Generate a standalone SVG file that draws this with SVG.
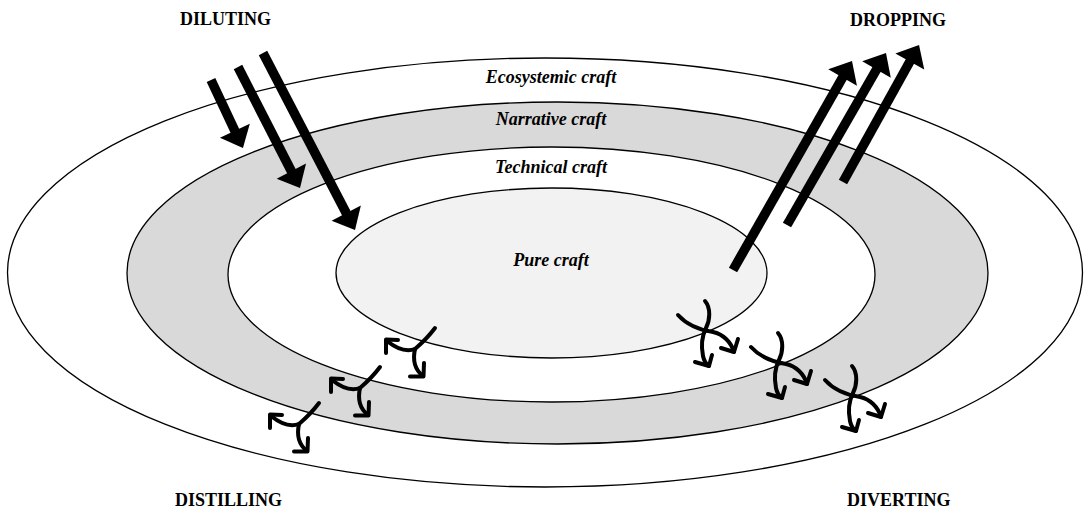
<svg xmlns="http://www.w3.org/2000/svg" xmlns:xlink="http://www.w3.org/1999/xlink" width="1088" height="512" viewBox="0 0 1088 512">
<style>
.ring{stroke:#000;stroke-width:1.3}
.lbl{font-family:"Liberation Serif","Times New Roman",serif;font-weight:bold;font-style:italic;font-size:18px;text-anchor:middle;fill:#000}
.cap{font-family:"Liberation Serif","Times New Roman",serif;font-weight:bold;font-size:18px;fill:#000}
.thick{stroke:#000;stroke-width:9.5;fill:none}
.sq{stroke:#000;stroke-width:4;fill:none;stroke-linecap:round;stroke-linejoin:round}
</style>
<defs>
<marker id="head" markerUnits="userSpaceOnUse" viewBox="-2 -18 22 36" refX="0" refY="0" markerWidth="22" markerHeight="36" orient="auto">
<path d="M-1,-16.5 L18,0 L-1,16.5 z" fill="#000"/>
</marker>
<g id="distill">
<path class="sq" d="M20,-21 C14,-13 7,-6 0,0"/>
<path class="sq" d="M0,0 C-8,3 -18,0 -28,-8"/>
<polyline class="sq" points="-17,-9 -29,-9.5 -29,4"/>
<path class="sq" d="M0,0 C-2,9 -1,20 8,27"/>
<polyline class="sq" points="-5,27.5 8.5,27.5 9,14"/>
</g>
<g id="divert">
<path class="sq" d="M0,-29 C6,-22 5,-10 1,-2 C-3,6 -4,16 -2,26 C-1,31 1,34 4,36"/>
<polyline class="sq" points="-10,32 4,36 7,25"/>
<path class="sq" d="M-27,-15 C-18,-5 -5,0 8,2 C18,4 26,12 29,22"/>
<polyline class="sq" points="16,18 29,22 33,9"/>
</g>
</defs>
<rect width="1088" height="512" fill="#fff"/>
<g id="ecosystemic">
<ellipse class="ring" cx="545" cy="272.5" rx="537.5" ry="214.5" fill="#fff"/>
</g>
<g id="narrative">
<ellipse class="ring" cx="557.5" cy="273" rx="430.5" ry="171" fill="#d9d9d9"/>
</g>
<g id="technical">
<ellipse class="ring" cx="551.5" cy="274.5" rx="323.5" ry="127.5" fill="#fff"/>
</g>
<g id="pure">
<ellipse class="ring" cx="551.5" cy="273" rx="215.5" ry="85" fill="#f2f2f2"/>
</g>
<g id="ring-labels">
<text class="lbl" x="551" y="83">Ecosystemic craft</text>
<text class="lbl" x="551" y="125">Narrative craft</text>
<text class="lbl" x="551" y="173">Technical craft</text>
<text class="lbl" x="551" y="266">Pure craft</text>
</g>
<g id="connectors">
<line class="thick" x1="211" y1="80" x2="235.3" y2="131.7" marker-end="url(#head)"/>
<line class="thick" x1="238" y1="67" x2="291.8" y2="172" marker-end="url(#head)"/>
<line class="thick" x1="263" y1="53" x2="346.7" y2="214" marker-end="url(#head)"/>
<line class="thick" x1="733" y1="270" x2="843.1" y2="76.6" marker-end="url(#head)"/>
<line class="thick" x1="787" y1="225" x2="877" y2="68.6" marker-end="url(#head)"/>
<line class="thick" x1="843" y1="182" x2="910.3" y2="60.7" marker-end="url(#head)"/>
<use xlink:href="#distill" transform="translate(415,349)"/>
<use xlink:href="#distill" transform="translate(360,388)"/>
<use xlink:href="#distill" transform="translate(299,424)"/>
<use xlink:href="#divert" transform="translate(705,330)"/>
<use xlink:href="#divert" transform="translate(778,362)"/>
<use xlink:href="#divert" transform="translate(852,395)"/>
</g>
<g id="diluting"><text class="cap" x="180" y="25">DILUTING</text></g>
<g id="dropping"><text class="cap" x="850" y="25.5">DROPPING</text></g>
<g id="distilling"><text class="cap" x="175" y="506">DISTILLING</text></g>
<g id="diverting"><text class="cap" x="847" y="506">DIVERTING</text></g>
</svg>
